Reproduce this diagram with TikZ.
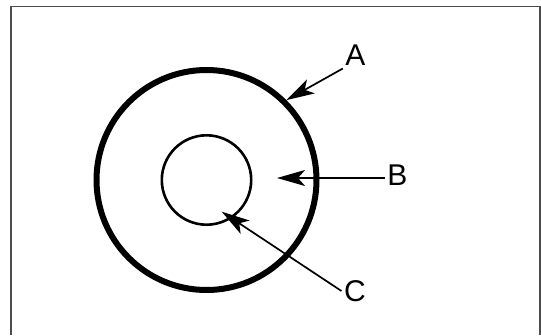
\documentclass[tikz,border=0pt]{standalone}
\usepackage{fontspec}
\setmainfont{Liberation Sans}
\usetikzlibrary{arrows.meta}
\begin{document}
\begin{tikzpicture}[x=1pt, y=-1pt,
  ring/.style={circle, draw, inner sep=0pt},
  lbl/.style={inner sep=2.5pt, font=\fontsize{30}{32}\selectfont},
  pointer/.style={line width=1.7pt, -{Stealth[length=28pt, width=16pt, inset=7pt]}}]
  \useasboundingbox (0,0) rectangle (541,335);
  % frame
  \draw [line width=1.2pt, black!70] (11,335) -- (11,6.5) -- (540,6.5) -- (540,335);
  % rings
  \node [ring, line width=6pt, minimum size=220pt] (outer) at (206.5,180) {};
  \node [ring, line width=2.6pt, minimum size=89.4pt] (inner) at (206.5,180) {};
  % labels
  \node [lbl] (lblA) at (355.5,55.5) {A};
  \node [lbl] (lblB) at (397.5,175.5) {B};
  \node [lbl] (lblC) at (355,291) {C};
  \coordinate (tipB) at (277,178);
  \coordinate (tipC) at (221.7,211.7);
  \draw [pointer] (lblA.south west) -- (outer.45);
  \draw [pointer] (lblB.west |- tipB) -- (tipB);
  \draw [pointer] (lblC.west) -- (tipC);
\end{tikzpicture}
\end{document}
